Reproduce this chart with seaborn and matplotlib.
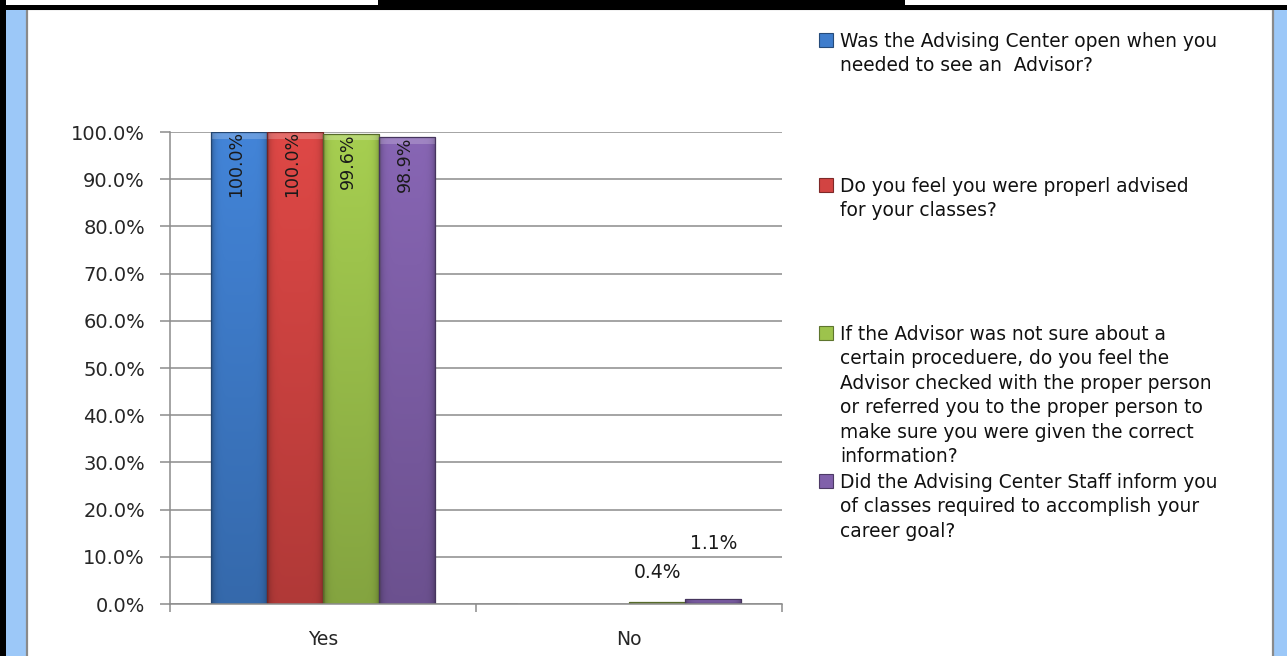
import numpy as np
import pandas as pd
import matplotlib
matplotlib.use("Agg")
import matplotlib.pyplot as plt
from matplotlib.patches import Rectangle
from matplotlib.ticker import FixedLocator, FuncFormatter
import seaborn as sns

# ---- data -------------------------------------------------------------
responses = ["Yes", "No"]
questions = [
    "Was the Advising Center open when you\nneeded to see an  Advisor?",
    "Do you feel you were properl advised\nfor your classes?",
    "If the Advisor was not sure about a\ncertain proceduere, do you feel the\n"
    "Advisor checked with the proper person\nor referred you to the proper person to\n"
    "make sure you were given the correct\ninformation?",
    "Did the Advising Center Staff inform you\nof classes required to accomplish your\n"
    "career goal?",
]
yes_share = [1.000, 1.000, 0.996, 0.989]
no_share = [0.000, 0.000, 0.004, 0.011]
series_colors = ["#3F7DCC", "#D24442", "#9DC34C", "#8060AA"]
# lift (points) of the small "No" value labels above their bars
no_label_rise = [0, 0, 21, 40]

rows = []
for q, y, n in zip(questions, yes_share, no_share):
    rows.append({"response": "Yes", "question": q, "share": y})
    rows.append({"response": "No", "question": q, "share": n})
df = pd.DataFrame(rows)

# ---- figure & frame ---------------------------------------------------
W, H = 1287, 656
sns.set_theme(style="white")
plt.rcParams["font.family"] = ["DejaVu Sans"]
fig = plt.figure(figsize=(W / 100, H / 100), dpi=100, facecolor="#9CC8F8")


def px_rect(x0, y0, x1, y1, **kw):
    r = Rectangle((x0 / W, 1 - y1 / H), (x1 - x0) / W, (y1 - y0) / H,
                  transform=fig.transFigure, **kw)
    fig.patches.append(r)
    return r


px_rect(27, 9, 1273, H + 5, facecolor="white", edgecolor="#8A8A8A", lw=1.6, zorder=-2)
px_rect(0, 0, W, 6, facecolor="white", edgecolor="none", zorder=-1)
px_rect(378, 0, 905, 6, facecolor="black", edgecolor="none", zorder=-1)
px_rect(0, 5, W, 10, facecolor="black", edgecolor="none", zorder=-1)
px_rect(0, 0, 6, H, facecolor="black", edgecolor="none", zorder=-1)

# ---- axes -------------------------------------------------------------
ax_l, ax_r, ax_t, ax_b = 170, 782, 132, 604
ax = fig.add_axes([ax_l / W, 1 - ax_b / H, (ax_r - ax_l) / W, (ax_b - ax_t) / H])
ax.set_zorder(1)
ax.patch.set_alpha(0)

sns.barplot(data=df, x="response", y="share", hue="question", order=responses,
            hue_order=questions, palette=series_colors, width=0.734,
            saturation=1, legend=False, ax=ax, errorbar=None)

ax.set_ylim(0, 1.0)
ax.set_xlim(-0.5, 1.5)
ax.set_xlabel("")
ax.set_ylabel("")
ax.set_axisbelow(True)

ax.yaxis.set_major_locator(FixedLocator(np.arange(0, 1.001, 0.1)))
ax.yaxis.set_major_formatter(FuncFormatter(lambda v, _: f"{v:.1%}"))
ax.grid(axis="y", color="#8C8C8C", lw=1.1)
ax.grid(axis="x", visible=False)
for s in ["top", "right"]:
    ax.spines[s].set_visible(False)
for s in ["left", "bottom"]:
    ax.spines[s].set_color("#8C8C8C")
    ax.spines[s].set_linewidth(1.1)

ax.tick_params(axis="y", which="major", length=7, width=1.1, color="#8C8C8C",
               direction="out", pad=11, labelsize=14, labelcolor="#262626", left=True)
ax.xaxis.set_minor_locator(FixedLocator([-0.5, 0.5, 1.5]))
ax.tick_params(axis="x", which="minor", length=6, width=1.1, color="#8C8C8C",
               direction="out", bottom=True)
ax.tick_params(axis="x", which="major", length=0, pad=19, labelsize=13.5,
               labelcolor="#262626")

# ---- shaded bar faces -------------------------------------------------
ppu_y = (ax_b - ax_t) / 1.0
ppu_x = (ax_r - ax_l) / 2.0
bars = [p for p in ax.patches if isinstance(p, Rectangle) and p.get_width() > 0]
for p in bars:
    h = p.get_height()
    if h <= 0:
        continue
    x0, w = p.get_x(), p.get_width()
    base = np.array(p.get_facecolor()[:3])
    nx = max(int(w * ppu_x), 2)
    ny = max(int(h * ppu_y), 2)
    u = np.linspace(0, 1, nx)
    v = np.linspace(0, 1, ny)[:, None]  # 0 = top, 1 = bottom
    side = 1 - 0.28 * np.abs(2 * u - 1) ** 8
    vert = 1.06 - 0.22 * v
    shade = vert * side[None, :]
    img = np.clip(base[None, None, :] * shade[:, :, None], 0, 1)
    # soft bevel along the top face
    bevel = min(7, ny // 3)
    if bevel > 0:
        img[:bevel] = np.clip(img[:bevel] * 0.8 + 0.2, 0, 1)
    im = ax.imshow(img, extent=(x0, x0 + w, 0, h), aspect="auto",
                   interpolation="bilinear", zorder=2.1)
    im.set_clip_path(p)
    p.set_facecolor("none")
    p.set_edgecolor(tuple(base * 0.55))
    p.set_linewidth(0.9)
    p.set_zorder(2.2)

ax.set_xlim(-0.5, 1.5)
ax.set_ylim(0, 1.0)

# ---- value labels -----------------------------------------------------
n_resp = len(responses)
for k, p in enumerate(bars):
    h = p.get_height()
    if h <= 0:
        continue
    series = k // n_resp
    cat = k % n_resp
    cx = p.get_x() + p.get_width() / 2
    if responses[cat] == "Yes":
        ax.annotate(f"{h:.1%}", (cx, h), xytext=(-2, 0.5), textcoords="offset points",
                    rotation=90, ha="center", va="top", fontsize=12.5,
                    color="#1A1A1A", zorder=5)
    else:
        ax.annotate(f"{h:.1%}", (cx, h), xytext=(0, no_label_rise[series]),
                    textcoords="offset points", ha="center", va="center",
                    fontsize=13.5, color="#1A1A1A", zorder=5, annotation_clip=False)

# ---- legend -----------------------------------------------------------
legend_rows = [40, 185, 333, 481]
for q, c, yc in zip(questions, series_colors, legend_rows):
    base = np.array(matplotlib.colors.to_rgb(c))
    px_rect(819, yc - 7, 833, yc + 7, facecolor=c, edgecolor=tuple(base * 0.6),
            lw=0.8, zorder=3)
    fig.text(840 / W, 1 - (yc - 8) / H, q, ha="left", va="top", fontsize=13.4,
             color="#111111", linespacing=1.36, zorder=3)

fig.savefig("out.png", dpi=100, facecolor=fig.get_facecolor())
